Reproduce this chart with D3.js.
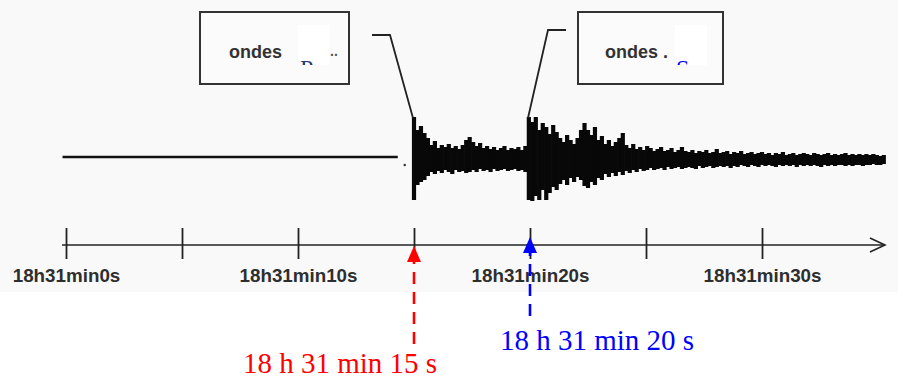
<!DOCTYPE html>
<html>
<head>
<meta charset="utf-8">
<script src="https://cdn.jsdelivr.net/npm/d3@7"></script>
<style>
  body { margin: 0; background: #fff; }
  svg { display: block; }
</style>
</head>
<body>
<svg id="chart" width="898" height="380"></svg>
<script>
// time axis, seconds after 18h31min0s
const tickValues = [0, 5, 10, 15, 20, 25, 30];
const tickLabels = ["18h31min0s", "", "18h31min10s", "", "18h31min20s", "", "18h31min30s"];

// quiet trace before the first arrival
const quietTimes = [-0.15, 14.3];
const quietAmp = [3, 3];

// seismogram sampled every 0.15 s from 15 s: peak up / peak down (amplitude units)
const traceStart = 15;
const traceStep = 0.15;
const traceUp = [
  43, 30, 34, 27, 22, 15, 19, 12, 15, 13,
  16, 12, 14, 11, 15, 20, 23, 18, 14, 17,
  12, 14, 11, 13, 10, 12, 14, 10, 12, 11,
  13, 10, 14, 43, 38, 43, 30, 37, 33, 26,
  35, 28, 22, 18, 25, 20, 16, 22, 30, 37,
  30, 25, 33, 20, 24, 16, 20, 14, 18, 22,
  27, 15, 12, 16, 11, 13, 10, 14, 12, 9,
  11, 13, 9, 10, 12, 8, 10, 13, 9, 8,
  10, 7, 9, 8, 10, 7, 8, 11, 7, 8,
  9, 6, 8, 7, 9, 6, 7, 8, 6, 7,
  8, 6, 7, 5, 7, 6, 8, 5, 6, 7,
  5, 6, 7, 6, 5, 7, 6, 5, 6, 7,
  5, 6, 5, 6, 7, 5, 6, 5, 6, 5,
  6, 5, 6, 5, 4, 5
];
const traceDown = [
  40, 25, 22, 20, 16, 12, 14, 11, 13, 10,
  12, 14, 10, 12, 11, 13, 12, 10, 12, 9,
  11, 10, 12, 9, 11, 10, 9, 11, 10, 9,
  11, 10, 12, 40, 41, 36, 40, 30, 40, 33,
  27, 30, 24, 20, 25, 18, 22, 17, 20, 26,
  28, 22, 25, 18, 20, 14, 17, 13, 16, 12,
  15, 11, 13, 10, 12, 9, 11, 10, 8, 10,
  9, 8, 10, 7, 9, 8, 7, 9, 8, 7,
  8, 9, 6, 8, 7, 6, 8, 7, 6, 7,
  6, 8, 6, 7, 5, 6, 7, 5, 6, 7,
  5, 6, 5, 6, 7, 5, 6, 5, 6, 5,
  7, 5, 6, 5, 6, 5, 6, 7, 5, 6,
  5, 6, 5, 5, 6, 5, 6, 5, 5, 6,
  5, 5, 4, 5, 5, 4
];

// arrivals marked under the axis
const arrivalTimes = [15, 20];
const arrivalLabels = ["18 h 31 min 15 s", "18 h 31 min 20 s"];
const arrivalColors = ["#ff0000", "#0000ff"];

// wave boxes
const waveNames = ["ondes", "ondes ."];
const waveLetters = ["P", "S"];

const svg = d3.select("#chart");

const x = d3.scaleLinear().domain([0, 30]).range([66, 762]);
const y = d3.scaleLinear().domain([-50, 50]).range([210, 110]);
const axisY = 245;

// scanned paper background
svg.append("rect")
    .attr("x", 0).attr("y", 0)
    .attr("width", 898).attr("height", 292)
    .attr("fill", "#f9f9f9");

// quiet line
svg.append("line")
    .attr("x1", x(quietTimes[0])).attr("x2", x(quietTimes[1]))
    .attr("y1", y(quietAmp[0])).attr("y2", y(quietAmp[1]))
    .attr("stroke", "#111")
    .attr("stroke-width", 2.5);

svg.append("circle")
    .attr("cx", x(14.6)).attr("cy", y(-5))
    .attr("r", 1.2)
    .attr("fill", "#333");

// trace drawn as peak-to-peak bars
const samples = traceUp.map((u, i) => ({
    t: traceStart + i * traceStep, up: u, down: traceDown[i]
}));

svg.append("g")
    .attr("stroke", "#080808")
    .attr("stroke-width", 4.2)
    .selectAll("line")
    .data(samples)
    .enter().append("line")
        .attr("x1", d => x(d.t))
        .attr("x2", d => x(d.t))
        .attr("y1", d => y(d.up))
        .attr("y2", d => y(-d.down));

// time axis
const axis = svg.append("g")
    .attr("transform", `translate(0, ${axisY})`)
    .call(d3.axisBottom(x)
        .tickValues(tickValues)
        .tickFormat((d, i) => tickLabels[i])
        .tickSizeOuter(0));

axis.select(".domain").remove();
axis.selectAll(".tick line")
    .attr("y1", -17).attr("y2", 14)
    .attr("stroke", "#222")
    .attr("stroke-width", 1.8);
axis.selectAll(".tick text")
    .attr("y", 37).attr("dy", 0)
    .attr("fill", "#2e2e2e")
    .style("font", "bold 18.8px 'Liberation Sans', Arial, sans-serif");

axis.append("path")
    .attr("d", `M${x(-0.17)},0H${x(35.3)}`)
    .attr("stroke", "#222")
    .attr("stroke-width", 1.6)
    .attr("fill", "none");
axis.append("path")
    .attr("d", `M${x(35.3) - 15},-7L${x(35.3)},0L${x(35.3) - 15},7`)
    .attr("stroke", "#222")
    .attr("stroke-width", 1.6)
    .attr("fill", "none");

// wave boxes with leader lines
const boxes = [
    {x: 200, y: 12, w: 149, h: 72, tx: 229, clipX: 298, letterX: 300, leader: [[372, 35], [390, 35], [413, 118]]},
    {x: 578, y: 12, w: 145, h: 72, tx: 605, clipX: 675, letterX: 676, leader: [[566, 30], [548, 30], [528, 118]]}
];

boxes.forEach((b, i) => {
    svg.append("rect")
        .attr("x", b.x).attr("y", b.y)
        .attr("width", b.w).attr("height", b.h)
        .attr("fill", "#fbfbfb")
        .attr("stroke", "#333")
        .attr("stroke-width", 2);

    svg.append("text")
        .attr("x", b.tx).attr("y", 58)
        .attr("fill", "#333")
        .style("font", "bold 18px 'Liberation Sans', Arial, sans-serif")
        .text(waveNames[i]);

    if (i === 0) {
        svg.append("text")
            .attr("x", 330).attr("y", 56)
            .attr("fill", "#555")
            .style("font", "bold 14px 'Liberation Sans', Arial, sans-serif")
            .text("..");
    }

    svg.append("rect")
        .attr("x", b.clipX).attr("y", 25)
        .attr("width", 32).attr("height", 40)
        .attr("fill", "#fff");

    svg.append("clipPath")
        .attr("id", "clip" + i)
        .append("rect")
            .attr("x", b.clipX).attr("y", 60)
            .attr("width", 32).attr("height", 5);

    svg.append("text")
        .attr("x", b.letterX).attr("y", 76)
        .attr("clip-path", `url(#clip${i})`)
        .attr("fill", i === 0 ? "#1f3a7a" : "#0000ff")
        .style("font", "24px 'Liberation Serif', 'Times New Roman', serif")
        .text(waveLetters[i]);

    svg.append("path")
        .attr("d", d3.line()(b.leader))
        .attr("fill", "none")
        .attr("stroke", "#222")
        .attr("stroke-width", 1.8);
});

// arrival markers
const markers = [
    {bottom: 344, head: 246, labelX: 340, labelY: 373},
    {bottom: 316, head: 237, labelX: 597, labelY: 350}
];

markers.forEach((m, i) => {
    const cx = x(arrivalTimes[i]);
    svg.append("line")
        .attr("x1", cx).attr("x2", cx)
        .attr("y1", m.bottom).attr("y2", m.head + 14)
        .attr("stroke", arrivalColors[i])
        .attr("stroke-width", 2.6)
        .attr("stroke-dasharray", "12,8");
    svg.append("path")
        .attr("d", `M${cx},${m.head}L${cx - 7},${m.head + 16}L${cx + 7},${m.head + 16}Z`)
        .attr("fill", arrivalColors[i]);
    svg.append("text")
        .attr("x", m.labelX).attr("y", m.labelY)
        .attr("text-anchor", "middle")
        .attr("fill", arrivalColors[i])
        .style("font", "29px 'Liberation Serif', 'Times New Roman', serif")
        .text(arrivalLabels[i]);
});
</script>
</body>
</html>
